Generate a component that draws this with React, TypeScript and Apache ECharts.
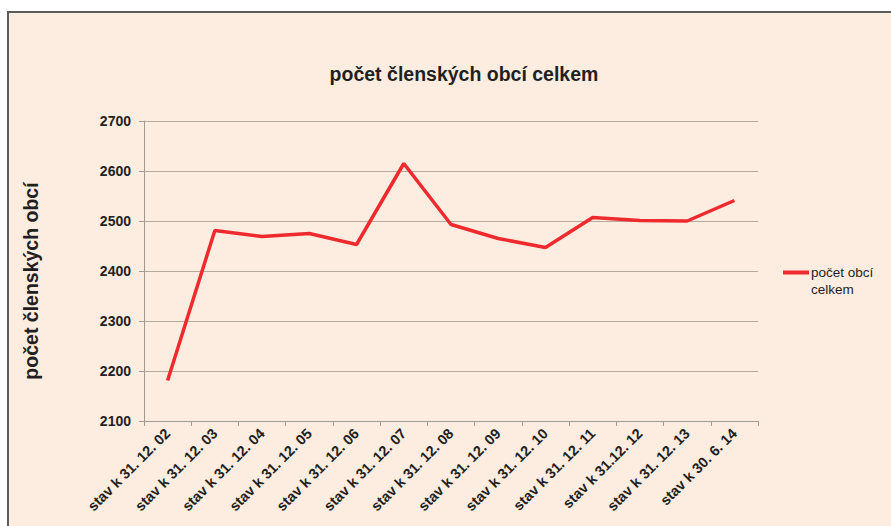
import React, { useEffect, useRef } from "react";
import * as echarts from "echarts";

const categories = [
  "stav k 31. 12. 02",
  "stav k 31. 12. 03",
  "stav k 31. 12. 04",
  "stav k 31. 12. 05",
  "stav k 31. 12. 06",
  "stav k 31. 12. 07",
  "stav k 31. 12. 08",
  "stav k 31. 12. 09",
  "stav k 31. 12. 10",
  "stav k 31. 12. 11",
  "stav k 31.12. 12",
  "stav k 31. 12. 13",
  "stav k 30. 6. 14",
];
const values = [2181, 2481, 2469, 2475, 2453, 2615, 2493, 2465, 2447, 2507, 2501, 2500, 2541];
const seriesName = "počet obcí celkem";
const titleText = "počet členských obcí celkem";
const yAxisName = "počet členských obcí";

const FONT = "'Liberation Sans', Arial, sans-serif";
const BG = "#fcede0";

export default function App() {
  const ref = useRef<HTMLDivElement>(null);
  useEffect(() => {
    if (!ref.current) return;
    const chart = echarts.init(ref.current, undefined, { renderer: "svg" });
    chart.setOption({
      animation: false,
      title: {
        text: titleText,
        left: 459,
        top: 59,
        textAlign: "center",
        textStyle: { fontFamily: FONT, fontSize: 19.5, fontWeight: "bold", color: "#231f20" },
      },
      legend: {
        left: 778,
        top: 259,
        icon: "path://M0,0 L0,0 M0,6.5 L26,6.5 L26,10.5 L0,10.5 Z M26,34 L26,34",
        itemWidth: 26,
        itemHeight: 34,
        itemGap: 0,
        formatter: () => "počet obcí\ncelkem",
        textStyle: {
          fontFamily: FONT,
          fontSize: 13.5,
          color: "#231f20",
          lineHeight: 17,
          padding: [0, 0, 0, -3],
        },
        data: [seriesName],
      },
      grid: { left: 144, right: 133, top: 121, bottom: 105, containLabel: false },
      xAxis: {
        type: "category",
        data: categories,
        boundaryGap: true,
        axisLine: { lineStyle: { color: "#a09a94", width: 1 } },
        axisTick: { show: true, alignWithLabel: false, length: 5, lineStyle: { color: "#a09a94" } },
        axisLabel: {
          rotate: 45,
          interval: 0,
          margin: 10,
          fontFamily: FONT,
          fontSize: 14.5,
          fontWeight: "bold",
          color: "#231f20",
        },
      },
      yAxis: {
        type: "value",
        min: 2100,
        max: 2700,
        interval: 100,
        name: yAxisName,
        nameLocation: "middle",
        nameGap: 103,
        nameTextStyle: {
          fontFamily: FONT,
          fontSize: 19.5,
          fontWeight: "bold",
          color: "#231f20",
          padding: [0, 20, 0, 0],
        },
        axisLine: { show: true, lineStyle: { color: "#a09a94", width: 1 } },
        axisTick: { show: true, length: 5, lineStyle: { color: "#a09a94" } },
        axisLabel: {
          margin: 13,
          fontFamily: FONT,
          fontSize: 14,
          fontWeight: "bold",
          color: "#231f20",
          formatter: (v: number) => String(v),
        },
        splitLine: { show: true, lineStyle: { color: "#b4aa9e", width: 1 } },
      },
      series: [
        {
          name: seriesName,
          type: "line",
          data: values,
          symbol: "none",
          lineStyle: { color: "#ee2a2e", width: 3.5 },
          itemStyle: { color: "#ee2a2e" },
        },
      ],
    });
    return () => chart.dispose();
  }, []);
  return (
    <div style={{ position: "absolute", left: 0, top: 0, width: 891, height: 526, background: "#fff", overflow: "hidden" }}>
      <div
        style={{
          position: "absolute",
          left: 7,
          top: 11,
          width: 1000,
          height: 1000,
          background: BG,
          borderLeft: "2px solid #5c5c5c",
          borderTop: "2px solid #5c5c5c",
        }}
      />
      <div ref={ref} style={{ position: "absolute", left: 0, top: 0, width: 891, height: 526 }} />
    </div>
  );
}
